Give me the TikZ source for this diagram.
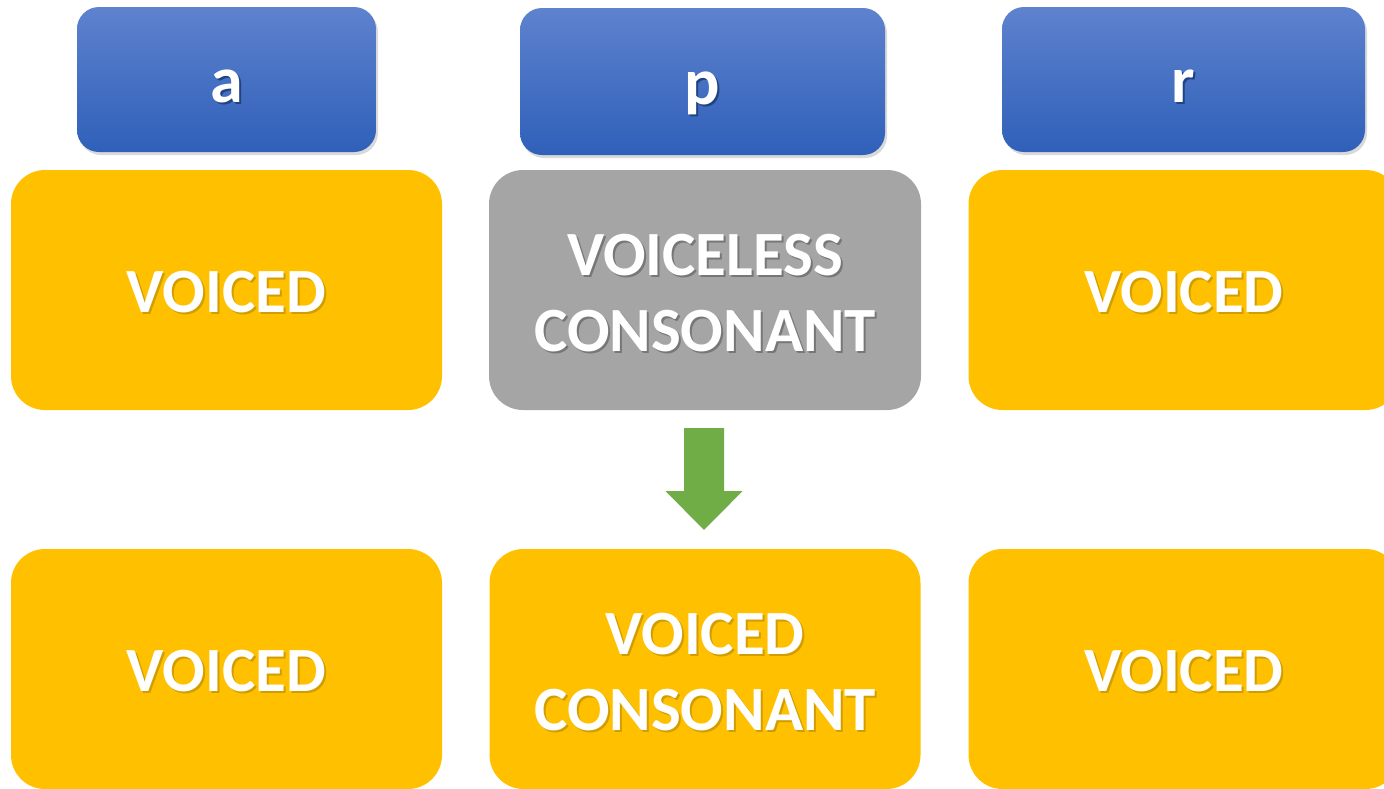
\documentclass[tikz,border=0pt]{standalone}
\usepackage{fontspec}
\setmainfont{Carlito}
\usetikzlibrary{shadows,calc}
\definecolor{ygold}{RGB}{255,192,0}
\definecolor{ggray}{RGB}{165,165,165}
\definecolor{btop}{RGB}{94,130,206}
\definecolor{bbot}{RGB}{47,96,185}
\definecolor{agreen}{RGB}{112,173,71}
% white text with a slight dark offset copy behind it
\newcommand\shcol{black}
\newcommand\sh[1]{\makebox[0pt][l]{\kern2pt\raisebox{-2pt}{\textcolor{\shcol}{#1}}}#1}
% extra room above the first of two lines
\newcommand\topstrut{\rule{0pt}{49pt}}
\begin{document}
\begin{tikzpicture}[x=1pt,y=-1pt,
  lbltxt/.style={text=white, inner sep=0pt, align=center,
    font=\fontsize{63}{76}\selectfont\bfseries},
  phonebox/.style={lbltxt, rounded corners=22pt, top color=btop, bottom color=bbot,
    font=\fontsize{66}{76}\selectfont\bfseries,
    drop shadow={opacity=0.3, shadow xshift=2pt, shadow yshift=-3pt},
    text height=45pt, text depth=0pt,
    execute at begin node={\def\shcol{bbot!70!black}}},
  voicedbox/.style={lbltxt, rounded corners=34pt, fill=ygold,
    minimum width=431pt, minimum height=240pt,
    execute at begin node={\def\shcol{ygold!82!black}}},
  voicelessbox/.style={lbltxt, rounded corners=34pt, fill=ggray,
    minimum width=432pt, minimum height=240pt,
    execute at begin node={\def\shcol{ggray!72!black}}},
  oneline/.style={text height=44pt, text depth=0pt}
]
\useasboundingbox (0,0) rectangle (1384,788);
\clip (0,0) rectangle (1384,788);

% phoneme headers
\node[phonebox, minimum width=299pt, minimum height=145pt] (pa) at (226.5,79.5) {\sh{a}};
\node[phonebox, minimum width=365pt, minimum height=147pt] (pp) at (702.5,81.5) {\sh{p}};
\node[phonebox, minimum width=363pt, minimum height=145pt] (pr) at (1183.5,79.5) {\sh{r}};

% underlying voicing
\node[voicedbox, oneline] (ta) at (226.5,290) {\sh{VOICED}};
\node[voicelessbox] (tp) at (705,290) {\topstrut\sh{VOICELESS}\\\sh{CONSONANT}};
\node[voicedbox, oneline] (tr) at (1184,290) {\sh{VOICED}};

% voicing after assimilation
\node[voicedbox, oneline] (ba) at (226.5,669) {\sh{VOICED}};
\node[voicedbox] (bp) at (705,669) {\topstrut\sh{VOICED}\\\sh{CONSONANT}};
\node[voicedbox, oneline] (br) at (1184,669) {\sh{VOICED}};

% block arrow from the voiceless box down to its voiced counterpart
\coordinate (at) at ($(tp.south)+(-1,18)$);
\coordinate (ab) at ($(bp.north)+(-1,-19)$);
\fill[agreen] ($(at)+(-20,0)$) -- ($(at)+(20,0)$) -- ($(at)+(20,63)$)
  -- ($(at)+(38.5,63)$) -- (ab) -- ($(at)+(-38.5,63)$) -- ($(at)+(-20,63)$) -- cycle;
\end{tikzpicture}
\end{document}
